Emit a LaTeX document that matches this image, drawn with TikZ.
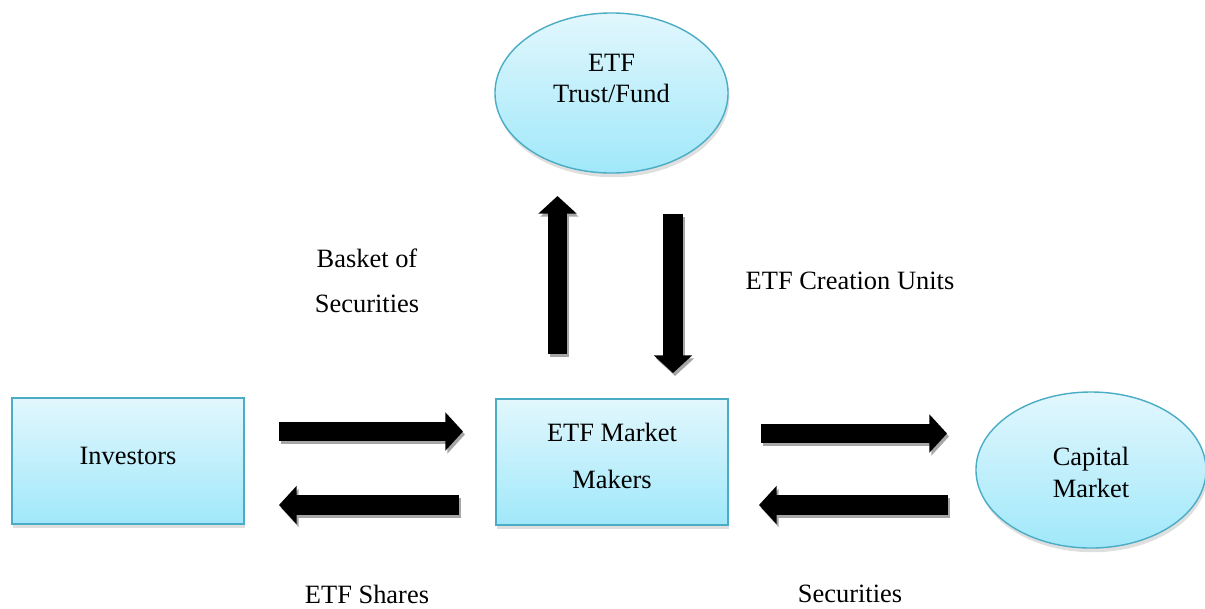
\documentclass[tikz,border=0pt]{standalone}
\usepackage{fontspec}
\setmainfont{Liberation Serif}
\usetikzlibrary{arrows.meta,shapes.geometric,shadows}
\definecolor{ballline}{RGB}{75,172,198}
\definecolor{balltop}{RGB}{226,247,253}
\definecolor{ballbottom}{RGB}{160,232,250}
\tikzset{
  bluebox/.style={draw=ballline, line width=1pt, top color=balltop, bottom color=ballbottom,
    minimum width=5.8cm, minimum height=3.15cm, inner sep=0pt,
    drop shadow={shadow xshift=1pt, shadow yshift=-3pt, opacity=0.25}},
  blueball/.style={bluebox, ellipse},
  bigarrow/.style={line width=14pt, -{Triangle[width=26.5pt, length=12.5pt]}},
  arrowshade/.style={bigarrow, black!35},
}
% block arrow with its grey shade
\def\blockarrow(#1)(#2){\draw[arrowshade] ([shift={(2,3)}]#1) -- ([shift={(2,3)}]#2); \draw[bigarrow] (#1) -- (#2);}

\begin{document}
\begin{tikzpicture}[x=0.025cm, y=-0.025cm, font=\fontsize{18.8}{22}\selectfont]
		%%%%% START %%%%%
		\useasboundingbox (0, 0) rectangle (1205, 608);

		\node[blueball, minimum width=5.825cm, minimum height=4cm,
		  label={[align=center, yshift=10.5pt]center:ETF\\Trust/Fund}] (fund) at (611.5, 93) {};
		\node[bluebox, label={[yshift=3.5pt]center:Investors}] (inv) at (128, 461) {};
		\node[bluebox, label={[align=center, yshift=4pt, font=\fontsize{18.8}{33.4}\selectfont]center:ETF Market\\Makers}] (mm) at (612, 462) {};
		\node[blueball, minimum width=5.75cm, minimum height=3.9cm,
		  label={[align=center, yshift=-1.5pt, font=\fontsize{18.8}{22.8}\selectfont]center:Capital\\Market}] (cap) at (1091, 470) {};

		\coordinate (upS) at (557.5, 354);
		\coordinate (upE) at (557.5, 196);
		\coordinate (downS) at (673, 214);
		\coordinate (downE) at (673, 373);
		\coordinate (invS) at (279, 431.5);
		\coordinate (invE) at (463, 431.5);
		\coordinate (mmS) at (459, 505);
		\coordinate (mmE) at (279, 505);
		\coordinate (capS) at (761, 433.5);
		\coordinate (capE) at (947, 433.5);
		\coordinate (secS) at (948, 505);
		\coordinate (secE) at (759, 505);

		\blockarrow(upS)(upE)
		\blockarrow(downS)(downE)
		\blockarrow(invS)(invE)
		\blockarrow(mmS)(mmE)
		\blockarrow(capS)(capE)
		\blockarrow(secS)(secE)

		\node[align=center, font=\fontsize{18.8}{32}\selectfont] (basket) at (367, 280.5) {Basket of\\Securities};
		\node (units) at (850, 281) {ETF Creation Units};
		\node (shares) at (367, 594) {ETF Shares};
		\node (secs) at (850, 594) {Securities};
		%%%%% END %%%%%
	\end{tikzpicture}
\end{document}
